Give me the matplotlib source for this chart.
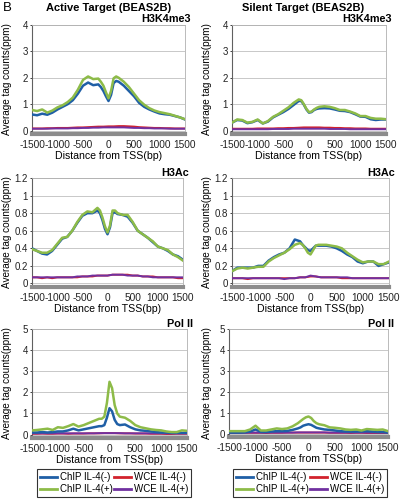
import matplotlib
matplotlib.use("Agg")
import matplotlib.pyplot as plt
from matplotlib.ticker import FuncFormatter
from matplotlib.lines import Line2D

plt.rcParams['font.family'] = ['Liberation Sans', 'DejaVu Sans']
plt.rcParams['axes.unicode_minus'] = False

# ---- data ----
X = [-1500, -1400, -1300, -1200, -1100, -1000, -900, -800, -700, -600, -500, -400, -300, -200,
     -150, -100, -50, 0, 50, 100, 150, 200, 300, 400, 500, 600, 700, 800, 900, 1000,
     1100, 1200, 1300, 1400, 1500]
XW = [-1500, -1400, -1300, -1200, -1100, -1000, -900, -800, -700, -600, -500, -400, -300, -200, -100,
      0, 100, 200, 300, 400, 500, 600, 700, 800, 900, 1000, 1100, 1200, 1300, 1400, 1500]

series_names = ["ChIP IL-4(-)", "ChIP IL-4(+)", "WCE IL-4(-)", "WCE IL-4(+)"]
series_colors = ["#1f5fa6", "#8dbb48", "#d2222d", "#7030a0"]

# Active target
act_k4_chip_m = [0.61, 0.58, 0.64, 0.6, 0.68, 0.8, 0.9, 1.0, 1.15, 1.4, 1.7, 1.82, 1.72, 1.75, 1.65, 1.5, 1.3, 1.12,
                 1.35, 1.8, 1.88, 1.85, 1.7, 1.5, 1.3, 1.05, 0.9, 0.8, 0.72, 0.65, 0.62, 0.6, 0.55, 0.5, 0.42]
act_k4_chip_p = [0.78, 0.74, 0.8, 0.68, 0.76, 0.88, 0.96, 1.08, 1.25, 1.55, 1.92, 2.05, 1.95, 1.97, 1.85, 1.7, 1.45,
                 1.22, 1.5, 1.98, 2.05, 2.0, 1.85, 1.65, 1.4, 1.15, 0.98, 0.85, 0.76, 0.7, 0.66, 0.62, 0.56, 0.5, 0.43]
act_k4_wce_m = [0.08, 0.08, 0.08, 0.09, 0.09, 0.1, 0.1, 0.1, 0.11, 0.12, 0.12, 0.13, 0.14, 0.15, 0.15, 0.16,
                0.16, 0.17, 0.17, 0.16, 0.15, 0.13, 0.12, 0.11, 0.1, 0.1, 0.09, 0.09, 0.08, 0.08, 0.08]
act_k4_wce_p = [0.07, 0.07, 0.07, 0.07, 0.08, 0.08, 0.08, 0.08, 0.09, 0.09, 0.1, 0.1, 0.11, 0.11, 0.12, 0.12,
                0.12, 0.12, 0.12, 0.11, 0.1, 0.1, 0.09, 0.09, 0.08, 0.08, 0.08, 0.07, 0.07, 0.07, 0.07]

act_ac_chip_m = [0.4, 0.37, 0.34, 0.33, 0.37, 0.44, 0.51, 0.53, 0.6, 0.69, 0.77, 0.8, 0.8, 0.83, 0.8, 0.72, 0.62,
                 0.56, 0.64, 0.8, 0.81, 0.79, 0.78, 0.76, 0.69, 0.6, 0.56, 0.52, 0.47, 0.42, 0.4, 0.37, 0.33, 0.31, 0.27]
act_ac_chip_p = [0.39, 0.37, 0.35, 0.35, 0.38, 0.45, 0.52, 0.53, 0.6, 0.7, 0.78, 0.82, 0.81, 0.86, 0.83, 0.75, 0.65,
                 0.58, 0.66, 0.83, 0.83, 0.8, 0.78, 0.78, 0.7, 0.6, 0.56, 0.52, 0.48, 0.42, 0.4, 0.38, 0.33, 0.3, 0.26]
act_ac_wce_m = [0.07, 0.07, 0.06, 0.07, 0.06, 0.07, 0.07, 0.07, 0.07, 0.07, 0.08, 0.08, 0.08, 0.09, 0.09, 0.09,
                0.1, 0.1, 0.1, 0.1, 0.09, 0.09, 0.08, 0.08, 0.08, 0.07, 0.07, 0.07, 0.07, 0.06, 0.06]
act_ac_wce_p = [0.07, 0.07, 0.07, 0.07, 0.07, 0.07, 0.07, 0.07, 0.07, 0.08, 0.08, 0.08, 0.09, 0.09, 0.09, 0.09,
                0.1, 0.1, 0.1, 0.09, 0.09, 0.09, 0.08, 0.08, 0.07, 0.07, 0.07, 0.07, 0.07, 0.07, 0.07]

act_pol_chip_m = [0.1, 0.1, 0.12, 0.1, 0.12, 0.15, 0.15, 0.2, 0.28, 0.2, 0.25, 0.3, 0.35, 0.4, 0.4, 0.45, 0.8, 1.25,
                  1.1, 0.7, 0.5, 0.45, 0.48, 0.35, 0.25, 0.2, 0.18, 0.15, 0.12, 0.1, 0.1, 0.08, 0.08, 0.08, 0.08]
act_pol_chip_p = [0.2, 0.22, 0.25, 0.28, 0.22, 0.35, 0.32, 0.4, 0.5, 0.38, 0.45, 0.55, 0.65, 0.75, 0.75, 0.85, 1.5,
                  2.5, 2.2, 1.4, 1.0, 0.85, 0.8, 0.65, 0.45, 0.35, 0.3, 0.25, 0.22, 0.2, 0.15, 0.12, 0.12, 0.2, 0.18]
act_pol_wce_m = [0.04, 0.04, 0.05, 0.04, 0.04, 0.05, 0.05, 0.04, 0.05, 0.05, 0.05, 0.06, 0.06, 0.06, 0.07, 0.07,
                 0.07, 0.06, 0.06, 0.06, 0.05, 0.05, 0.05, 0.04, 0.04, 0.04, 0.03, 0.03, 0.04, 0.04, 0.04]
act_pol_wce_p = [0.06, 0.06, 0.06, 0.06, 0.06, 0.06, 0.06, 0.06, 0.06, 0.06, 0.06, 0.06, 0.06, 0.07, 0.07, 0.07,
                 0.07, 0.07, 0.06, 0.06, 0.06, 0.06, 0.06, 0.06, 0.06, 0.06, 0.06, 0.06, 0.06, 0.06, 0.06]

# Silent target
sil_k4_chip_m = [0.3, 0.4, 0.38, 0.28, 0.32, 0.4, 0.27, 0.34, 0.5, 0.6, 0.7, 0.82, 0.97, 1.12, 1.12, 0.98, 0.8, 0.68,
                 0.7, 0.78, 0.82, 0.84, 0.85, 0.84, 0.8, 0.75, 0.74, 0.7, 0.62, 0.53, 0.52, 0.43, 0.4, 0.42, 0.42]
sil_k4_chip_p = [0.3, 0.42, 0.4, 0.3, 0.33, 0.42, 0.27, 0.36, 0.52, 0.62, 0.75, 0.88, 1.05, 1.18, 1.15, 1.0, 0.82,
                 0.7, 0.72, 0.8, 0.86, 0.9, 0.92, 0.9, 0.85, 0.78, 0.78, 0.72, 0.65, 0.55, 0.55, 0.48, 0.45, 0.45, 0.43]
sil_k4_wce_m = [0.07, 0.07, 0.07, 0.07, 0.07, 0.08, 0.08, 0.08, 0.08, 0.09, 0.09, 0.1, 0.1, 0.11, 0.12, 0.12,
                0.12, 0.12, 0.11, 0.11, 0.1, 0.1, 0.09, 0.09, 0.08, 0.08, 0.08, 0.07, 0.07, 0.07, 0.07]
sil_k4_wce_p = [0.05, 0.05, 0.05, 0.05, 0.05, 0.05, 0.05, 0.05, 0.06, 0.06, 0.06, 0.06, 0.07, 0.07, 0.07, 0.07,
                0.07, 0.07, 0.07, 0.06, 0.06, 0.06, 0.06, 0.05, 0.05, 0.05, 0.05, 0.05, 0.05, 0.05, 0.05]

sil_ac_chip_m = [0.14, 0.18, 0.18, 0.18, 0.18, 0.2, 0.2, 0.26, 0.3, 0.33, 0.35, 0.4, 0.5, 0.48, 0.44, 0.41, 0.38,
                 0.37, 0.4, 0.43, 0.43, 0.43, 0.43, 0.42, 0.4, 0.37, 0.33, 0.3, 0.25, 0.23, 0.25, 0.25, 0.2, 0.22, 0.24]
sil_ac_chip_p = [0.14, 0.17, 0.18, 0.17, 0.18, 0.19, 0.19, 0.25, 0.29, 0.32, 0.35, 0.39, 0.44, 0.46, 0.44, 0.4, 0.35,
                 0.33, 0.38, 0.43, 0.44, 0.44, 0.44, 0.43, 0.42, 0.4, 0.35, 0.31, 0.27, 0.24, 0.25, 0.25, 0.22, 0.22, 0.25]
sil_ac_wce_m = [0.06, 0.06, 0.06, 0.05, 0.06, 0.06, 0.06, 0.06, 0.06, 0.06, 0.06, 0.06, 0.06, 0.07, 0.07, 0.08,
                0.08, 0.07, 0.07, 0.07, 0.07, 0.06, 0.06, 0.06, 0.06, 0.06, 0.06, 0.06, 0.06, 0.06, 0.06]
sil_ac_wce_p = [0.06, 0.06, 0.06, 0.06, 0.06, 0.06, 0.06, 0.06, 0.06, 0.06, 0.05, 0.06, 0.06, 0.07, 0.07, 0.09,
                0.08, 0.07, 0.07, 0.07, 0.07, 0.07, 0.07, 0.06, 0.06, 0.06, 0.06, 0.06, 0.06, 0.06, 0.06]

sil_pol_chip_m = [0.05, 0.05, 0.05, 0.06, 0.1, 0.2, 0.08, 0.08, 0.1, 0.12, 0.12, 0.13, 0.18, 0.25, 0.3, 0.38, 0.42,
                  0.45, 0.42, 0.35, 0.28, 0.25, 0.2, 0.18, 0.15, 0.12, 0.1, 0.1, 0.1, 0.1, 0.12, 0.1, 0.08, 0.08, 0.05]
sil_pol_chip_p = [0.12, 0.12, 0.12, 0.12, 0.2, 0.38, 0.15, 0.15, 0.2, 0.25, 0.22, 0.25, 0.35, 0.5, 0.6, 0.7, 0.78,
                  0.82, 0.75, 0.6, 0.5, 0.45, 0.4, 0.3, 0.28, 0.25, 0.2, 0.18, 0.2, 0.15, 0.22, 0.2, 0.18, 0.2, 0.12]
sil_pol_wce_m = [0.03, 0.03, 0.03, 0.04, 0.04, 0.04, 0.04, 0.03, 0.04, 0.04, 0.04, 0.05, 0.05, 0.05, 0.05, 0.05,
                 0.05, 0.05, 0.05, 0.04, 0.04, 0.04, 0.04, 0.03, 0.04, 0.04, 0.03, 0.03, 0.03, 0.03, 0.03]
sil_pol_wce_p = [0.05, 0.05, 0.05, 0.05, 0.05, 0.05, 0.05, 0.05, 0.05, 0.05, 0.05, 0.05, 0.05, 0.06, 0.06, 0.06,
                 0.06, 0.06, 0.06, 0.05, 0.05, 0.05, 0.05, 0.05, 0.05, 0.05, 0.05, 0.05, 0.05, 0.05, 0.05]

x_ticks = [-1500, -1000, -500, 0, 500, 1000, 1500]
panel_titles = ["H3K4me3", "H3Ac", "Pol II"]
col_titles = ["Active Target (BEAS2B)", "Silent Target (BEAS2B)"]
y_ticks = [[0, 1, 2, 3, 4], [0, 0.2, 0.4, 0.6, 0.8, 1.0, 1.2], [0, 1, 2, 3, 4, 5]]
y_bottom = [-0.13, -0.04, -0.16]

panels = [
    [(act_k4_chip_m, act_k4_chip_p, act_k4_wce_m, act_k4_wce_p),
     (act_ac_chip_m, act_ac_chip_p, act_ac_wce_m, act_ac_wce_p),
     (act_pol_chip_m, act_pol_chip_p, act_pol_wce_m, act_pol_wce_p)],
    [(sil_k4_chip_m, sil_k4_chip_p, sil_k4_wce_m, sil_k4_wce_p),
     (sil_ac_chip_m, sil_ac_chip_p, sil_ac_wce_m, sil_ac_wce_p),
     (sil_pol_chip_m, sil_pol_chip_p, sil_pol_wce_m, sil_pol_wce_p)],
]

W, H = 400, 500
fig = plt.figure(figsize=(4, 5), dpi=100)

# axes boxes in pixels: (left, right, top, bottom)
boxes = [
    [(32, 185, 25, 134), (32, 183, 178, 287), (32, 187, 329, 438)],
    [(232, 386, 25, 134), (232, 389, 178, 287), (229, 388, 329, 437)],
]
label_y = [19, 173, 324]
ylabel_x = [12, 212]   # right edge (in pixels) of the rotated y label

fmt = FuncFormatter(lambda v, p: "%g" % v)

for c in range(2):
    for r in range(3):
        l, rr, t, b = boxes[c][r]
        ax = fig.add_axes([l / W, 1 - b / H, (rr - l) / W, (b - t) / H])
        chip_m, chip_p, wce_m, wce_p = panels[c][r]
        ax.plot(X, chip_m, color=series_colors[0], lw=1.8, zorder=4)
        ax.plot(X, chip_p, color=series_colors[1], lw=1.8, zorder=5)
        ax.plot(XW, wce_m, color=series_colors[2], lw=1.4, zorder=3)
        ax.plot(XW, wce_p, color=series_colors[3], lw=1.4, zorder=3)
        ax.set_xlim(-1500, 1500)
        ax.set_ylim(y_bottom[r], y_ticks[r][-1])
        ax.set_yticks(y_ticks[r])
        ax.yaxis.set_major_formatter(fmt)
        ax.set_xticks(x_ticks)
        ax.xaxis.set_major_formatter(fmt)
        ax.grid(axis='y', color='#c8c8c8', lw=0.7, zorder=0)
        ax.set_axisbelow(True)
        for s in ['top', 'right']:
            ax.spines[s].set_color('#b0b0b0')
            ax.spines[s].set_linewidth(0.6)
        ax.spines['left'].set_color('#606060')
        ax.spines['left'].set_linewidth(0.8)
        ax.spines['bottom'].set_color('#8c8c8c')
        ax.spines['bottom'].set_linewidth(3.0)
        ax.tick_params(axis='x', labelsize=7.3, length=0, pad=4, colors='#222222')
        ax.tick_params(axis='y', labelsize=7.0, length=1.5, width=0.6, pad=1.5, colors='#222222')
        ax.set_xlabel("Distance from TSS(bp)", fontsize=7.6, labelpad=1.0)
        ax.set_ylabel("Average tag counts(ppm)", fontsize=7.2)
        ax.yaxis.set_label_coords((ylabel_x[c] - l) / (rr - l), 0.5)
        fig.text((rr + 6) / W, 1 - label_y[r] / H, panel_titles[r], fontsize=7.8,
                 fontweight='bold', ha='right', va='center')

fig.text(3 / W, 1 - 8 / H, "B", fontsize=9.5, ha='left', va='center')
fig.text(109 / W, 1 - 8 / H, col_titles[0], fontsize=8, fontweight='bold', ha='center', va='center')
fig.text(303 / W, 1 - 8 / H, col_titles[1], fontsize=8, fontweight='bold', ha='center', va='center')

handles = [Line2D([], [], color=col, lw=2) for col in series_colors]
for cx in [114 / W, 310 / W]:
    leg = fig.legend(handles, series_names, ncol=2, loc='center', bbox_to_anchor=(cx, 1 - 483 / H),
                     fontsize=7.0, frameon=True, fancybox=False, edgecolor='black',
                     handlelength=1.8, handletextpad=0.25, columnspacing=0.1,
                     borderpad=0.3, labelspacing=0.2, borderaxespad=0)
    leg.get_frame().set_linewidth(0.8)

fig.savefig("out.png", dpi=100)
